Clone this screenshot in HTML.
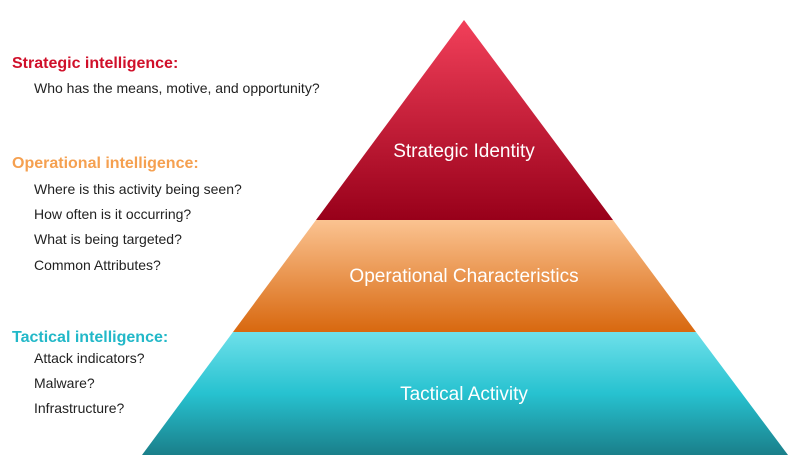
<!DOCTYPE html>
<html><head><meta charset="utf-8"><style>
html,body{margin:0;padding:0;background:#fff;}
body{width:801px;height:469px;position:relative;overflow:hidden;font-family:"Liberation Sans",sans-serif;}
.t{position:absolute;white-space:nowrap;}
.h{font-weight:bold;font-size:16px;}
.s{font-size:14px;color:#222;}
</style></head><body>
<svg width="801" height="469" style="position:absolute;left:0;top:0">
<defs>
<linearGradient id="r" x1="0" y1="0" x2="0" y2="1"><stop offset="0" stop-color="#f2405a"/><stop offset="1" stop-color="#98001a"/></linearGradient>
<linearGradient id="o" x1="0" y1="0" x2="0" y2="1"><stop offset="0" stop-color="#fbc391"/><stop offset="1" stop-color="#d8680f"/></linearGradient>
<linearGradient id="c" x1="0" y1="0" x2="0" y2="1"><stop offset="0" stop-color="#6ee0ea"/><stop offset="0.5" stop-color="#27c2d0"/><stop offset="1" stop-color="#1a7f8a"/></linearGradient>
</defs>
<polygon points="464,20 613,220 316,220" fill="url(#r)"/>
<polygon points="316,220 613,220 696,332 233,332" fill="url(#o)"/>
<polygon points="233,332 696,332 788,455 142,455" fill="url(#c)"/>
<text x="464" y="157" font-size="19" fill="#fff" text-anchor="middle" font-family="Liberation Sans">Strategic Identity</text>
<text x="464" y="282" font-size="19" fill="#fff" text-anchor="middle" font-family="Liberation Sans">Operational Characteristics</text>
<text x="464" y="400" font-size="19" fill="#fff" text-anchor="middle" font-family="Liberation Sans">Tactical Activity</text>
</svg>
<div class="t h" style="left:12px;top:55px;color:#d0102a">Strategic intelligence:</div>
<div class="t s" style="left:34px;top:80px">Who has the means, motive, and opportunity?</div>
<div class="t h" style="left:12px;top:155px;color:#f5a050">Operational intelligence:</div>
<div class="t s" style="left:34px;top:181px">Where is this activity being seen?</div>
<div class="t s" style="left:34px;top:206px">How often is it occurring?</div>
<div class="t s" style="left:34px;top:231px">What is being targeted?</div>
<div class="t s" style="left:34px;top:257px">Common Attributes?</div>
<div class="t h" style="left:12px;top:329px;color:#22b8c8">Tactical intelligence:</div>
<div class="t s" style="left:34px;top:350px">Attack indicators?</div>
<div class="t s" style="left:34px;top:375px">Malware?</div>
<div class="t s" style="left:34px;top:400px">Infrastructure?</div>
</body></html>
